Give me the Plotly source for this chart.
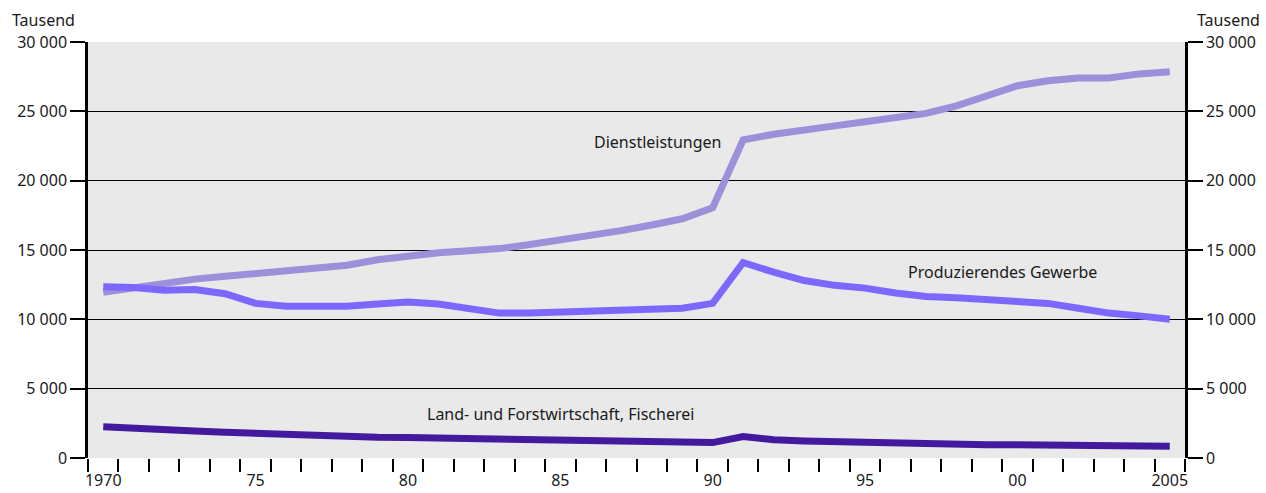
"""
Erwerbstätige nach Wirtschaftsbereichen 1970-2005 (Tausend)
"""

import plotly.graph_objects as go

# Daten
years = list(range(1970, 2006))

dienstleistungen = [
    11950, 12300, 12600, 12900, 13100, 13300, 13500, 13600, 13900, 14300,
    14600, 14800, 14950, 15100, 15400, 15700, 16050, 16400, 16800, 17250,
    18050, 22950, 23350, 23600, 23950, 24250, 24550, 24850, 25400, 26100,
    26850, 27200, 27400, 27400, 27700, 27850,
]
produzierendes = [
    12350, 12300, 12100, 12150, 11850, 11150, 10950, 10950, 10950, 11100,
    11250, 11100, 10750, 10450, 10450, 10500, 10650, 10650, 10650, 10800,
    11150, 14100, 13400, 12800, 12450, 12250, 11900, 11650, 11550, 11400,
    11350, 11150, 10800, 10450, 10250, 10000,
]
landwirtschaft = [
    2250, 2120, 2030, 1950, 1860, 1780, 1660, 1600, 1550, 1490,
    1470, 1440, 1400, 1370, 1340, 1300, 1280, 1240, 1200, 1150,
    1110, 1550, 1320, 1230, 1180, 1100, 1000, 980, 970, 960,
    950, 930, 900, 880, 860, 840,
]

series_names = ["Dienstleistungen", "Produzierendes Gewerbe", "Land- und Forstwirtschaft, Fischerei"]
series_colors = ["#9b90d9", "#7d68ff", "#431a9e"]
label_pos = [(1988.2, 22800), (1999.5, 13400), (1985.0, 3170)]

y_ticks = [0, 5000, 10000, 15000, 20000, 25000, 30000]
y_text = ["0", "5 000", "10 000", "15 000", "20 000", "25 000", "30 000"]
x_ticks = [1970, 1975, 1980, 1985, 1990, 1995, 2000, 2005]
x_text = ["1970", "75", "80", "85", "90", "95", "00", "2005"]

FONT = "Noto Sans"
axis_font = dict(family=FONT, size=16, color="#1a1a1a")

fig = go.Figure()
for name, vals, clr in zip(series_names, [dienstleistungen, produzierendes, landwirtschaft], series_colors):
    fig.add_trace(
        go.Scatter(x=years, y=vals, name=name, mode="lines",
                   line=dict(color=clr, width=7), hoverinfo="skip")
    )

# Dummy-Trace, damit die rechte Achse gezeichnet wird
fig.add_trace(go.Scatter(x=[years[0]], y=[0], yaxis="y2", mode="markers",
                         marker=dict(opacity=0), hoverinfo="skip", showlegend=False))

# Beschriftungen der Linien
for name, (lx, ly) in zip(series_names, label_pos):
    fig.add_annotation(x=lx, y=ly, text=name, showarrow=False, font=axis_font)

# "Tausend" links und rechts
fig.add_annotation(x=-0.0711, y=1.053, xref="paper", yref="paper", xanchor="left", yanchor="middle",
                   text="Tausend", showarrow=False, font=axis_font)
fig.add_annotation(x=1.070, y=1.053, xref="paper", yref="paper", xanchor="right", yanchor="middle",
                   text="Tausend", showarrow=False, font=axis_font)

y_common = dict(
    range=[0, 30000],
    tickvals=y_ticks,
    ticktext=y_text,
    ticks="outside",
    ticklen=15,
    tickwidth=2,
    tickcolor="black",
    tickfont=axis_font,
    zeroline=False,
    showline=True,
    linecolor="black",
    linewidth=2.5,
    automargin=False,
)

fig.update_layout(
    width=1266,
    height=493,
    margin=dict(l=88, r=81, t=42, b=35),
    paper_bgcolor="white",
    plot_bgcolor="#e9e9e9",
    showlegend=False,
    xaxis=dict(
        range=[1969.5, 2005.5],
        tickvals=x_ticks,
        ticktext=x_text,
        ticks="outside",
        ticklen=8,
        tickcolor="rgba(0,0,0,0)",
        tickfont=axis_font,
        showgrid=False,
        zeroline=False,
        showline=False,
        automargin=False,
        minor=dict(tick0=1969.5, dtick=1, ticks="outside", ticklen=13,
                   tickwidth=1.5, tickcolor="black", showgrid=False),
    ),
    yaxis=dict(showgrid=True, gridcolor="black", gridwidth=1.3, **y_common),
    yaxis2=dict(overlaying="y", side="right", showgrid=False, **y_common),
)

# Seitenrand des Browsers entfernen, damit die Abbildung genau ins Fenster passt
fig.write_html("out.html", config={"displayModeBar": False},
               post_script="document.body.style.margin='0';")
